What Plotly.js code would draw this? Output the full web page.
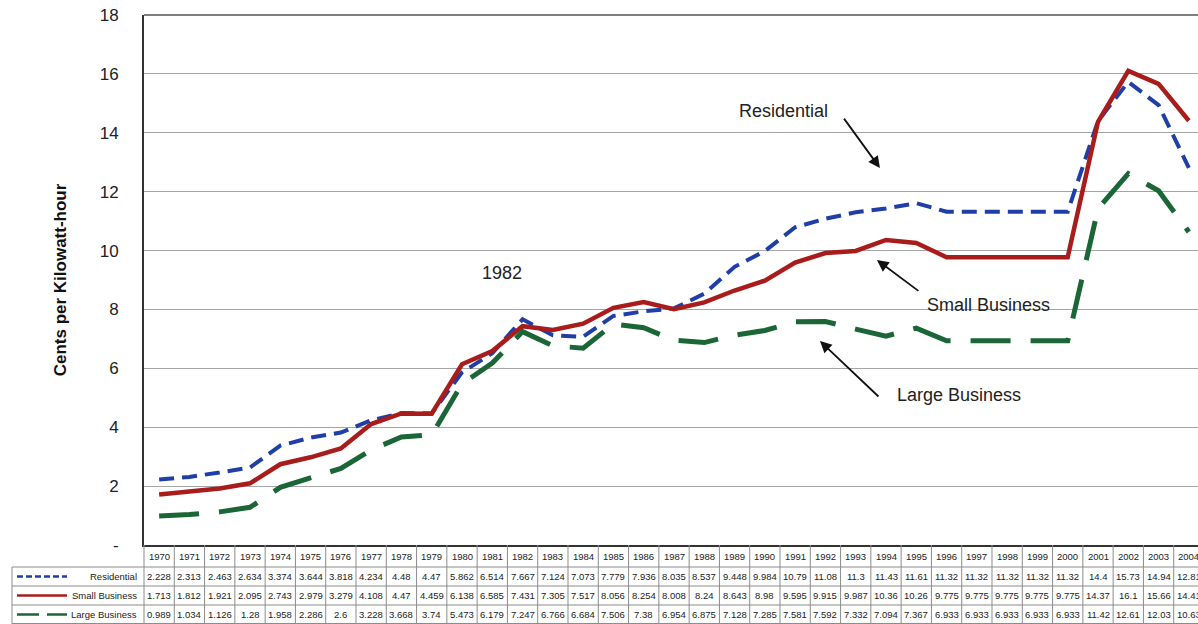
<!DOCTYPE html>
<html>
<head>
<meta charset="utf-8">
<script src="https://cdn.plot.ly/plotly-3.0.1.min.js"></script>
<style>html,body{margin:0;padding:0;background:#fff;}#chart{width:1198px;height:624px;}</style>
</head>
<body>
<div id="chart"></div>
<script>
var years = [1970,1971,1972,1973,1974,1975,1976,1977,1978,1979,1980,1981,1982,1983,1984,1985,1986,1987,1988,1989,1990,1991,1992,1993,1994,1995,1996,1997,1998,1999,2000,2001,2002,2003,2004];
var residential = [2.228,2.313,2.463,2.634,3.374,3.644,3.818,4.234,4.48,4.47,5.862,6.514,7.667,7.124,7.073,7.779,7.936,8.035,8.537,9.448,9.984,10.79,11.08,11.3,11.43,11.61,11.32,11.32,11.32,11.32,11.32,14.4,15.73,14.94,12.81];
var smallBusiness = [1.713,1.812,1.921,2.095,2.743,2.979,3.279,4.108,4.47,4.459,6.138,6.585,7.431,7.305,7.517,8.056,8.254,8.008,8.24,8.643,8.98,9.595,9.915,9.987,10.36,10.26,9.775,9.775,9.775,9.775,9.775,14.37,16.1,15.66,14.41];
var largeBusiness = [0.989,1.034,1.126,1.28,1.958,2.286,2.6,3.228,3.668,3.74,5.473,6.179,7.247,6.766,6.684,7.506,7.38,6.954,6.875,7.128,7.285,7.581,7.592,7.332,7.094,7.367,6.933,6.933,6.933,6.933,6.933,11.42,12.61,12.03,10.63];
var seriesNames = ['Residential','Small Business','Large Business'];
var yTickVals = [0,2,4,6,8,10,12,14,16,18];
var yTickText = ['-','2','4','6','8','10','12','14','16','18'];

var BLUE = '#1f3ea6', RED = '#a81c1c', GREEN = '#1b6636';
var XR = [1969.5, 2004.302];
var FONT = 'Liberation Sans, Arial, sans-serif';

// layout geometry (pixels)
var L = 144, T = 15, W = 1054, H = 530;
function px2paperX(p){ return (p - L) / W; }
function py2paperY(p){ return (T + H - p) / H; }
function yr2paperX(y){ return (y - XR[0]) / (XR[1] - XR[0]); }

var traces = [
  {x: years, y: residential, name: seriesNames[0], mode: 'lines', line: {color: BLUE, width: 4, dash: '15px,8px'}},
  {x: years, y: smallBusiness, name: seriesNames[1], mode: 'lines', line: {color: RED, width: 4.5}},
  {x: years, y: largeBusiness, name: seriesNames[2], mode: 'lines', line: {color: GREEN, width: 5, dash: '40px,20px'}}
];

var shapes = [];
var annotations = [];
var gridC = '#8c8c8c';
// top frame line
shapes.push({type:'line', xref:'paper', yref:'paper', x0:0, x1:1, y0:1, y1:1, line:{color:'#555', width:1.5}});
// table horizontal lines
var rowLines = [567, 586, 605, 623.5];
rowLines.forEach(function(p){
  shapes.push({type:'line', xref:'paper', yref:'paper', x0:px2paperX(12), x1:1, y0:py2paperY(p), y1:py2paperY(p), line:{color:gridC, width:1}});
});
// left border of legend column
shapes.push({type:'line', xref:'paper', yref:'paper', x0:px2paperX(12), x1:px2paperX(12), y0:py2paperY(567), y1:py2paperY(624), line:{color:gridC, width:1}});
// table vertical lines
shapes.push({type:'line', xref:'paper', yref:'paper', x0:0, x1:0, y0:py2paperY(545), y1:py2paperY(624), line:{color:gridC, width:1}});
years.forEach(function(y){
  var xp = yr2paperX(y + 0.5);
  if (xp <= 1) shapes.push({type:'line', xref:'paper', yref:'paper', x0:xp, x1:xp, y0:py2paperY(545), y1:py2paperY(624), line:{color:gridC, width:1}});
});
// legend swatches
var rowCenters = [576.5, 595.5, 614.5];
shapes.push({type:'line', xref:'paper', yref:'paper', x0:px2paperX(17), x1:px2paperX(67), y0:py2paperY(rowCenters[0]), y1:py2paperY(rowCenters[0]), line:{color:BLUE, width:2.5, dash:'6px,3px'}});
shapes.push({type:'line', xref:'paper', yref:'paper', x0:px2paperX(17), x1:px2paperX(67), y0:py2paperY(rowCenters[1]), y1:py2paperY(rowCenters[1]), line:{color:RED, width:2.5}});
shapes.push({type:'line', xref:'paper', yref:'paper', x0:px2paperX(17), x1:px2paperX(67), y0:py2paperY(rowCenters[2]), y1:py2paperY(rowCenters[2]), line:{color:GREEN, width:2.5, dash:'22px,8px'}});
seriesNames.forEach(function(n, i){
  annotations.push({xref:'paper', yref:'paper', x:px2paperX(139), y:py2paperY(rowCenters[i]), text:n, showarrow:false, xanchor:'right', yanchor:'middle', font:{family:FONT, size:9.5, color:'#222'}});
});
// table values
var tableSeries = [residential, smallBusiness, largeBusiness];
years.forEach(function(y, j){
  annotations.push({xref:'x', yref:'paper', x:y, y:py2paperY(556), text:String(y), showarrow:false, xanchor:'center', yanchor:'middle', font:{family:FONT, size:9.5, color:'#222'}});
  tableSeries.forEach(function(s, i){
    annotations.push({xref:'x', yref:'paper', x:y, y:py2paperY(rowCenters[i]), text:String(s[j]), showarrow:false, xanchor:'center', yanchor:'middle', font:{family:FONT, size:9.5, color:'#222'}});
  });
});
// chart callouts
var calloutFont = {family:FONT, size:18, color:'#222'};
annotations.push({x:1990.60, y:14.74, text:'Residential', showarrow:false, font:calloutFont});
annotations.push({x:1997.37, y:8.15, text:'Small Business', showarrow:false, font:calloutFont});
annotations.push({x:1996.41, y:5.09, text:'Large Business', showarrow:false, font:calloutFont});
annotations.push({x:1981.32, y:9.24, text:'1982', showarrow:false, font:calloutFont});
var arrowStyle = {showarrow:true, arrowhead:2, arrowsize:1.3, arrowwidth:1.8, arrowcolor:'#111', text:'', standoff:0, startstandoff:0};
annotations.push(Object.assign({x:1993.80, y:12.80, ax:-37, ay:-51}, arrowStyle));
annotations.push(Object.assign({x:1993.70, y:9.68, ax:43, ay:32}, arrowStyle));
annotations.push(Object.assign({x:1991.82, y:6.93, ax:60, ay:57}, arrowStyle));

var layout = {
  width: 1198, height: 624,
  margin: {l: L, r: 0, t: T, b: 624 - T - H, pad: 0},
  paper_bgcolor: '#fff', plot_bgcolor: '#fff',
  showlegend: false,
  font: {family: FONT, color: '#222'},
  xaxis: {range: XR, showgrid: false, zeroline: false, showticklabels: false, ticks: '',
          showline: true, linecolor: '#333', linewidth: 2, fixedrange: true},
  yaxis: {range: [0, 18], tickvals: yTickVals, ticktext: yTickText, showgrid: true, gridcolor: '#a6a6a6', gridwidth: 1,
          zeroline: false, showline: true, linecolor: '#333', linewidth: 2, ticks: '', ticklabelstandoff: 20,
          tickfont: {family: FONT, size: 17, color: '#222'},
          title: {text: '<b>Cents per Kilowatt-hour</b>', font: {family: FONT, size: 17, color: '#111'}, standoff: 29},
          automargin: false, fixedrange: true},
  shapes: shapes,
  annotations: annotations
};
Plotly.newPlot('chart', traces, layout, {displayModeBar: false, staticPlot: true});
</script>
</body>
</html>
